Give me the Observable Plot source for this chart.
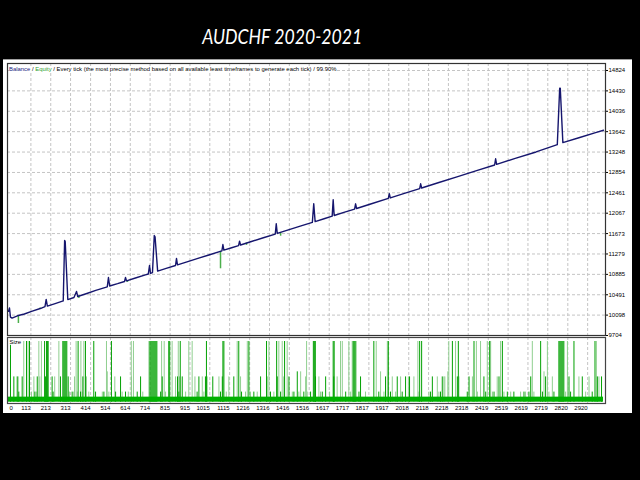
<!DOCTYPE html>
<html>
<head>
<meta charset="utf-8">
<script src="https://cdn.jsdelivr.net/npm/d3@7"></script>
<script src="https://cdn.jsdelivr.net/npm/@observablehq/plot@0.6"></script>
<style>
  html, body { margin: 0; padding: 0; background: #000; }
  body { width: 640px; height: 480px; position: relative; overflow: hidden; font-family: "Liberation Sans", Arial, sans-serif; }
  #title { position: absolute; left: 0; top: 25px; width: 564px; text-align: center; color: #fff;
           font-family: Lato, "Open Sans", sans-serif; font-style: italic; font-size: 21px; line-height: 1; }
  #title span { display: inline-block; transform: scaleX(0.84); transform-origin: center; }
  #panel { position: absolute; left: 3px; top: 59px; width: 629px; height: 354px; background: #fff; border-top: 1px solid #a0a0a0; box-sizing: border-box; }
  #main { position: absolute; left: 3px; top: 60px; }
  #size { position: absolute; left: 3px; top: 336px; }
  #legend { position: absolute; left: 9px; top: 66px; font-size: 5.9px; line-height: 7px; background: #fff; color: #000; padding-right: 1px; white-space: nowrap; }
  svg { overflow: visible; }
</style>
</head>
<body>
<div id="title"><span>AUDCHF 2020-2021</span></div>
<div id="panel"></div>
<div id="main"></div>
<div id="size"></div>
<div id="legend"><span style="color:#1a1a80">Balance</span> / <span style="color:#2ea02e">Equity</span> / Every tick (the most precise method based on all available least timeframes to generate each tick) / 99.90%</div>
<script>
// ---- Data ----
const xTicks = [0,113,213,313,414,514,614,714,815,915,1015,1115,1216,1316,1416,1516,1617,1717,1817,1917,2018,2118,2218,2318,2419,2519,2619,2719,2820,2920];
const yTicks = [9704,10098,10491,10885,11279,11673,12067,12461,12854,13248,13642,14036,14430,14824];

// [trade index, balance]
const balance = [
[0,10170],[5,10235],[10,10060],[18,10040],[45,10085],[80,10120],[120,10175],[160,10225],[184,10262],[190,10400],[196,10272],
[235,10320],[276,10373],[283,11540],[286,11520],[299,10398],[330,10438],[343,10554],[349,10458],[395,10515],[440,10575],
[498,10642],[504,10825],[510,10660],[550,10705],[585,10748],[590,10825],[595,10760],[640,10815],[690,10875],[705,10893],
[711,11056],[716,10905],[726,10920],[735,11636],[739,11610],[752,10948],[795,11000],[842,11056],[847,11192],[852,11068],
[900,11128],[955,11195],[1010,11260],[1076,11338],[1081,11462],[1086,11352],[1125,11400],[1160,11440],[1165,11526],[1170,11452],
[1225,11520],[1285,11592],[1345,11664],[1350,11862],[1355,11676],[1415,11750],[1475,11822],[1532,11889],[1539,12248],[1546,11905],
[1595,11965],[1632,12010],[1637,12326],[1642,12022],[1695,12086],[1745,12146],[1750,12248],[1755,12158],[1830,12250],[1915,12352],
[1920,12442],[1925,12362],[2000,12455],[2073,12542],[2078,12635],[2083,12554],[2170,12660],[2265,12775],[2360,12888],[2451,12998],
[2456,13118],[2461,13010],[2555,13125],[2660,13250],[2767,13390],[2779,14480],[2782,14480],[2795,13430],[2880,13530],[2960,13625],[3000,13670]
];

// equity dips: [trade index, from, to]
const equityDips = [[50,10080,9936],[160,10233,10205],[355,10468,10420],[600,10764,10730],[1069,11330,10993],[1200,11490,11445],[1372,11690,11622]];

// trade sizes (lots) by trade index; group A = dark bars, group B = light bars
const fullA = [10,91,106,182,192,196,200,274,279,284,289,294,351,388,430,519,713,718,723,728,733,738,743,748,808,813,866,998,1081,1086,1161,1212,1301,1352,1392,1537,1542,1547,1637,1642,1738,1743,1748,1842,1915,2073,2083,2238,2268,2347,2426,2490,2683,2775,2780,2785,2790,2795,2800,2851,2957];
const fullB = [77,99,153,166,254,341,365,380,494,619,630,708,772,785,825,856,909,926,1153,1204,1313,1363,1380,1405,1503,1674,1683,1716,1733,1753,1854,1910,2064,2220,2254,2359,2380,2414,2431,2481,2641,2717,2818,2964];
const midA = [27,44,69,145,187,220,262,301,375,565,666,775,852,876,960,993,1030,1078,1136,1271,1355,1414,1548,1599,1640,1775,1901,1960,2002,2022,2137,2187,2263,2322,2397,2473,2633,2708,2826,2893,2969,2990];
const midB = [49,128,158,233,333,393,536,620,842,862,940,977,1002,1061,1111,1170,1305,1388,1498,1565,1657,1935,1977,2016,2044,2162,2195,2200,2271,2339,2464,2742,2876,2927,2977];
const mid6A = [1456];
const mid6B = [498,1473,1876,2215,2700];
const smallA = [52,133,225,321,363,439,481,540,590,649,767,859,951,1069,1175,1237,1321,1372,1439,1489,1523,1582,1700,1767,1867,1926,1985,2128,2178,2313,2406,2448,2515,2548,2599,2624,2692,2750,2834,2943];
const smallB = [116,140,307,329,346,371,405,473,506,573,604,677,792,893,985,1098,1195,1220,1254,1338,1431,1464,1506,1573,1619,1725,1800,1893,1952,2069,2120,2170,2364,2440,2498,2532,2582,2607,2649,2725,2809,2910];
const lotFull = 0.12, lotMid6 = 0.06, lotMid = 0.05, lotSmall = 0.02, lotBase = 0.01;
const firstTrade = -5, lastTrade = 3000;

// ---- Build tables ----
const rows = (arr, lot, grp) => arr.map(i => ({i, lot, grp}));
const trades = [
  ...rows(smallB, lotSmall, "B"), ...rows(midB, lotMid, "B"), ...rows(mid6B, lotMid6, "B"), ...rows(fullB, lotFull, "B"),
  ...rows(smallA, lotSmall, "A"), ...rows(midA, lotMid, "A"), ...rows(mid6A, lotMid6, "A"), ...rows(fullA, lotFull, "A")
];
const baseBand = [{i1: firstTrade, i2: lastTrade, lot: lotBase}];

const xDomain = [-5, 3010];
const fmt = d => String(d);
const font = {fontFamily: "Liberation Sans, Arial, sans-serif", fontSize: "6px", background: "transparent", color: "#000"};
const grid = {stroke: "#c4c4c4", strokeDasharray: "3,2", strokeWidth: 1};

const main = Plot.plot({
  width: 629, height: 277,
  marginLeft: 4, marginRight: 27, marginTop: 3, marginBottom: 2,
  style: font,
  x: {domain: xDomain, axis: null},
  y: {domain: [9704, 14959]},
  marks: [
    Plot.ruleY(yTicks.slice(1), grid),
    Plot.ruleX(xTicks.slice(1), grid),
    Plot.axisY(yTicks, {anchor: "right", tickSize: 2, tickPadding: 1, label: null, tickFormat: fmt}),
    Plot.ruleX(equityDips, {x: d => d[0], y1: d => d[1], y2: d => d[2], stroke: "#4caf4c", strokeWidth: 1.5}),
    Plot.line(balance, {x: d => d[0], y: d => d[1], stroke: "#16166e", strokeWidth: 1.4}),
    Plot.frame({stroke: "#333", strokeWidth: 1.2})
  ]
});
document.getElementById("main").append(main);

const size = Plot.plot({
  width: 629, height: 77,
  marginLeft: 4, marginRight: 27, marginTop: 1, marginBottom: 10,
  style: font,
  x: {domain: xDomain},
  y: {domain: [-0.00257, 0.1279], axis: null},
  color: {domain: ["A", "B"], range: ["#00a000", "#8fcf8f"]},
  marks: [
    Plot.ruleX(xTicks.slice(1), grid),
    Plot.rect(trades, {x1: "i", x2: d => d.i + 5, y1: d => 0, y2: "lot", fill: "grp"}),
    Plot.rect(baseBand, {x1: "i1", x2: "i2", y1: d => 0, y2: "lot", fill: "#00b000"}),
    Plot.axisX(xTicks.slice(1), {tickSize: 0, tickPadding: 2, textAnchor: "end", label: null, tickFormat: fmt}),
    Plot.axisX(xTicks.slice(0, 1), {tickSize: 0, tickPadding: 2, textAnchor: "start", dx: 1, label: null, tickFormat: fmt}),
    Plot.text(["Size"], {text: d => d, frameAnchor: "top-left", dx: 2, dy: 2, fontSize: 6, fill: "#000", stroke: "#fff", strokeWidth: 2, paintOrder: "stroke"}),
    Plot.frame({stroke: "#444", strokeWidth: 1.2})
  ]
});
document.getElementById("size").append(size);
</script>
</body>
</html>
